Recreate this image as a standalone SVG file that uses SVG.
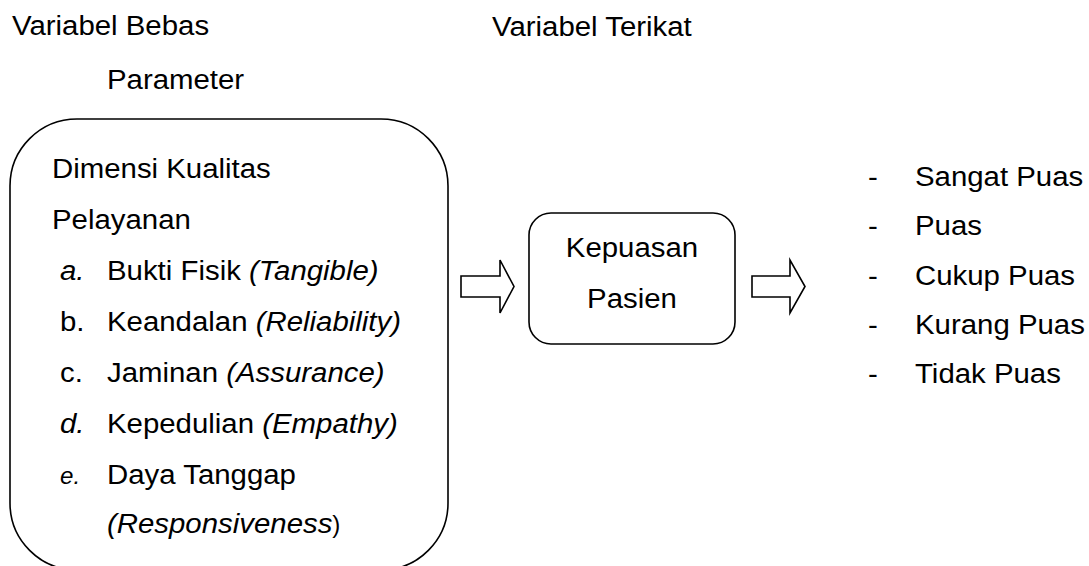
<svg xmlns="http://www.w3.org/2000/svg" width="1089" height="566" viewBox="0 0 1089 566">
<style>
  text { font-family: "Liberation Sans", Arial, sans-serif; font-size: 28px; fill: #000; }
  .it { font-style: italic; }
  .sm { font-size: 23px; }
  .mid { text-anchor: middle; }
  .box { fill: #fff; stroke: #000; stroke-width: 1.6; }
  .arrow { fill: #fff; stroke: #000; stroke-width: 1.6; stroke-linejoin: miter; }
</style>
<rect width="1089" height="566" fill="#fff"/>

<g id="headings">
  <text transform="translate(12 35) scale(1.05 1)">Variabel Bebas</text>
  <text transform="translate(107 89) scale(1.05 1)">Parameter</text>
  <text transform="translate(492 36) scale(1.05 1)">Variabel Terikat</text>
</g>

<g id="node-dimensi">
  <rect class="box" x="10" y="119" width="438" height="451" rx="67" ry="67"/>
  <text transform="translate(52 178) scale(1.05 1)">Dimensi Kualitas</text>
  <text transform="translate(52 229) scale(1.05 1)">Pelayanan</text>
  <text class="it" transform="translate(60 280) scale(1.05 1)">a.</text>
  <text transform="translate(107 280) scale(1.05 1)">Bukti Fisik <tspan class="it">(Tangible)</tspan></text>
  <text transform="translate(60 331) scale(1.05 1)">b.</text>
  <text transform="translate(107 331) scale(1.05 1)">Keandalan <tspan class="it">(Reliability)</tspan></text>
  <text transform="translate(60 382) scale(1.05 1)">c.</text>
  <text transform="translate(107 382) scale(1.05 1)">Jaminan <tspan class="it">(Assurance)</tspan></text>
  <text class="it" transform="translate(60 433) scale(1.05 1)">d.</text>
  <text transform="translate(107 433) scale(1.05 1)">Kepedulian <tspan class="it">(Empathy)</tspan></text>
  <text class="it sm" transform="translate(60 484) scale(1.05 1)">e.</text>
  <text transform="translate(107 484) scale(1.05 1)">Daya Tanggap</text>
  <text transform="translate(107 533) scale(1.05 1)"><tspan class="it">(Responsiveness</tspan><tspan class="sm">)</tspan></text>
</g>

<g id="node-kepuasan">
  <rect class="box" x="529" y="213" width="206" height="131" rx="22" ry="22"/>
  <text class="mid" transform="translate(632 257) scale(1.05 1)">Kepuasan</text>
  <text class="mid" transform="translate(632 308) scale(1.05 1)">Pasien</text>
</g>

<g id="node-kategori">
  <text transform="translate(868 186) scale(1.05 1)">-</text>
  <text transform="translate(915 186) scale(1.05 1)">Sangat Puas</text>
  <text transform="translate(868 235) scale(1.05 1)">-</text>
  <text transform="translate(915 235) scale(1.05 1)">Puas</text>
  <text transform="translate(868 285) scale(1.05 1)">-</text>
  <text transform="translate(915 285) scale(1.05 1)">Cukup Puas</text>
  <text transform="translate(868 334) scale(1.05 1)">-</text>
  <text transform="translate(915 334) scale(1.05 1)">Kurang Puas</text>
  <text transform="translate(868 383) scale(1.05 1)">-</text>
  <text transform="translate(915 383) scale(1.05 1)">Tidak Puas</text>
</g>

<g id="connectors">
  <polygon class="arrow" points="461,276 500,276 500,260 514,286.5 500,313 500,297 461,297"/>
  <polygon class="arrow" points="752,276 790,276 790,260 805,286.5 790,313 790,297 752,297"/>
</g>
</svg>
